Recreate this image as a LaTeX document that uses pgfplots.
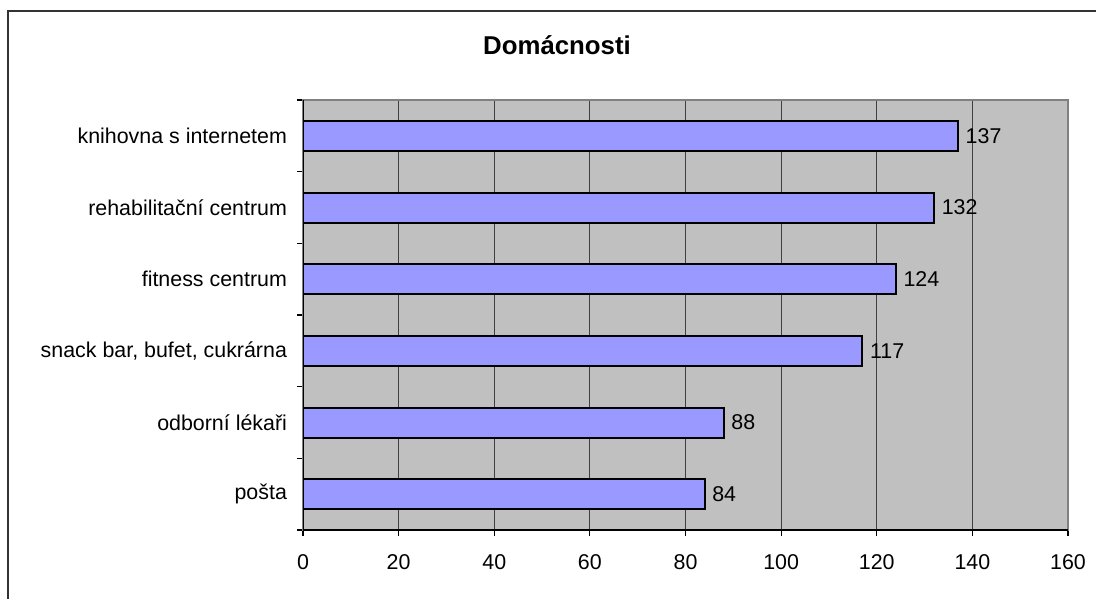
\documentclass[border=0pt]{standalone}
\usepackage{pgfplots}
\pgfplotsset{compat=1.18}
\usepackage{fontspec}
\setmainfont{Liberation Sans}
\definecolor{plotgray}{HTML}{C0C0C0}
\definecolor{barblue}{HTML}{9999FF}
\definecolor{gridgray}{HTML}{404040}
\definecolor{framegray}{HTML}{333333}
\begin{document}
\begin{tikzpicture}
\useasboundingbox (0,0) rectangle (548pt,299.5pt);
% outer chart frame (cut off at the right and bottom)
\draw[framegray, line width=0.8pt] (4pt,0pt) -- (4pt,294pt) -- (548pt,294pt);
\node[font=\bfseries\fontsize{12.9}{15}\selectfont] at (278.5pt,277pt) {Domácnosti};
\begin{axis}[
    at={(151.5pt,34.5pt)},
    anchor=south west,
    scale only axis,
    width=382.5pt,
    height=215pt,
    xbar,
    bar width=15pt,
    xmin=0, xmax=160,
    ymin=-0.5, ymax=5.5,
    xtick={0,20,...,160},
    ytick={0,...,5},
    yticklabels={pošta, odborní lékaři, {snack bar, bufet, cukrárna},
        fitness centrum, rehabilitační centrum, knihovna s internetem},
    minor ytick={-0.5,0.5,...,5.5},
    major y tick style={draw=none},
    minor y tick style={draw=black},
    tick align=outside,
    major tick length=3pt,
    minor tick length=3pt,
    xtick pos=bottom,
    ytick pos=left,
    xmajorgrids,
    major x grid style={gridgray, line width=0.6pt},
    axis line style={draw=gray, line width=0.8pt},
    axis background/.style={fill=plotgray},
    tick style={black, line width=0.6pt},
    /pgf/number format/assume math mode=true,
    tick label style={font=\fontsize{10.7}{12.5}\selectfont},
    xticklabel style={yshift=-5.5pt},
    yticklabel style={xshift=-1.5pt},
    nodes near coords,
    every node near coord/.append style={font=\fontsize{10.7}{12.5}\selectfont, black, /pgf/number format/assume math mode=true},
]
\addplot[fill=barblue, draw=black, line width=1pt] coordinates {
    (84,0) (88,1) (117,2) (124,3) (132,4) (137,5)
};
\draw[black, line width=0.7pt] (rel axis cs:0,1) -- (rel axis cs:0,0) -- (rel axis cs:1,0);
\end{axis}
\end{tikzpicture}
\end{document}
